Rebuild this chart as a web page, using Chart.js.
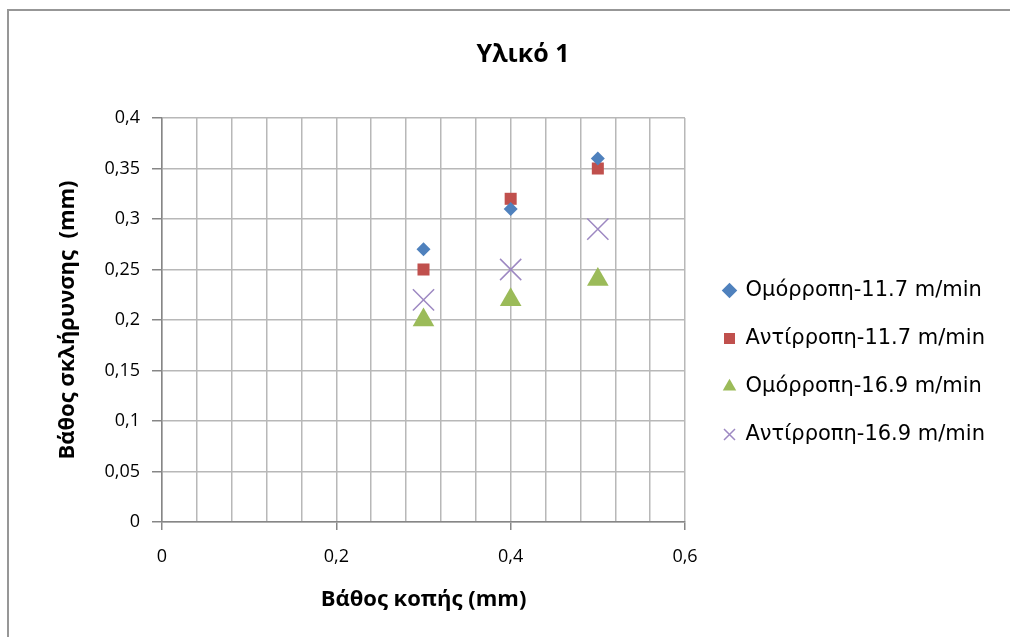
<!DOCTYPE html>
<html>
<head>
<meta charset="utf-8">
<script src="https://cdn.jsdelivr.net/npm/chart.js@4.4.0/dist/chart.umd.min.js"></script>
<style>
  html, body { margin: 0; padding: 0; background: #fff; }
  #wrap { position: relative; width: 1010px; height: 637px; overflow: hidden; }
  #frame { position: absolute; left: 7px; top: 9px; width: 1100px; height: 700px;
           border-top: 2px solid #979797; border-left: 2px solid #979797; }
  canvas { position: absolute; left: 0; top: 0; }
</style>
</head>
<body>
<div id="wrap">
  <div id="frame"></div>
  <canvas id="chart" width="1010" height="637"></canvas>
</div>
<script>
// cutting depth (mm) and hardening depth (mm) per series
const cuttingDepth = [0.3, 0.4, 0.5];
const coCurrent117 = [0.27, 0.31, 0.36];
const counter117 = [0.25, 0.32, 0.35];
const coCurrent169 = [0.20, 0.22, 0.24];
const counter169 = [0.22, 0.25, 0.29];
const seriesNames = [
  "Ομόρροπη-11.7 m/min",
  "Αντίρροπη-11.7 m/min",
  "Ομόρροπη-16.9 m/min",
  "Αντίρροπη-16.9 m/min"
];
const xTickLabels = ["0", "0,2", "0,4", "0,6"];
const yTickLabels = ["0", "0,05", "0,1", "0,15", "0,2", "0,25", "0,3", "0,35", "0,4"];

Chart.defaults.font.family = "'Open Sans', sans-serif";
Chart.defaults.color = "#000";

function points(ys) {
  return cuttingDepth.map((x, i) => ({ x: x, y: ys[i] }));
}

// keep the legend column at a fixed width and nudge title/legend like Excel does
const fixBoxes = {
  id: "fixBoxes",
  beforeLayout(chart) {
    const lg = chart.legend;
    if (lg && !lg._fixed) {
      const fit = lg.fit.bind(lg);
      lg.fit = function () { fit(); this.width = 325; };
      lg._fixed = true;
    }
  },
  afterLayout(chart) {
    chart.legend.left += 12;
    chart.legend.right += 12;
    chart.legend.top += 39;
    chart.legend.bottom += 39;
    chart.titleBlock.left += 13;
    chart.titleBlock.right += 13;
  }
};

const gridColor = "#b8b8b8";
const axisColor = "#868686";

new Chart(document.getElementById("chart"), {
  type: "scatter",
  data: {
    datasets: [
      {
        label: seriesNames[0],
        data: points(coCurrent117),
        pointStyle: "rectRot",
        pointRadius: 7,
        backgroundColor: "#4F81BD",
        borderColor: "#4F81BD",
        borderWidth: 0
      },
      {
        label: seriesNames[1],
        data: points(counter117),
        pointStyle: "rect",
        pointRadius: 8.5,
        backgroundColor: "#C0504D",
        borderColor: "#C0504D",
        borderWidth: 0
      },
      {
        label: seriesNames[2],
        data: points(coCurrent169),
        pointStyle: "triangle",
        pointRadius: 12.5,
        backgroundColor: "#9BBB59",
        borderColor: "#9BBB59",
        borderWidth: 0
      },
      {
        label: seriesNames[3],
        data: points(counter169),
        pointStyle: "crossRot",
        pointRadius: 15,
        backgroundColor: "#9d88c2",
        borderColor: "#9d88c2",
        borderWidth: 1.5
      }
    ]
  },
  options: {
    responsive: false,
    animation: false,
    layout: { padding: { top: 10, left: 10, right: 0, bottom: 0 } },
    plugins: {
      title: {
        display: true,
        text: "Υλικό 1",
        font: { size: 25, weight: "bold" },
        color: "#000",
        padding: { top: 30, bottom: 48 }
      },
      legend: {
        position: "right",
        align: "center",
        labels: {
          usePointStyle: true,
          boxWidth: 11,
          boxHeight: 11,
          padding: 27,
          font: { family: "'DejaVu Sans', sans-serif", size: 21 },
          color: "#000"
        }
      },
      tooltip: { enabled: false }
    },
    scales: {
      x: {
        type: "linear",
        min: 0,
        max: 0.6,
        ticks: {
          stepSize: 0.04,
          autoSkip: false,
          maxRotation: 0,
          padding: 16,
          font: { size: 18 },
          color: "#000",
          callback: (v, i) => (i % 5 === 0 ? xTickLabels[i / 5] : "")
        },
        grid: {
          color: gridColor,
          lineWidth: 1.5,
          tickLength: 8,
          tickColor: (ctx) => (ctx.index % 5 === 0 ? axisColor : "rgba(0,0,0,0)")
        },
        border: { color: axisColor, width: 1.5 },
        title: {
          display: true,
          text: "Βάθος κοπής (mm)",
          font: { size: 22, weight: "bold" },
          color: "#000",
          padding: { top: 0, bottom: 24 }
        },
        afterFit: (s) => { s.height = 115; }
      },
      y: {
        min: 0,
        max: 0.4,
        ticks: {
          stepSize: 0.05,
          padding: 12,
          font: { size: 18 },
          color: "#000",
          callback: (v, i) => yTickLabels[i]
        },
        grid: { color: gridColor, lineWidth: 1.5, tickLength: 10, tickColor: axisColor },
        border: { color: axisColor, width: 1.5 },
        title: {
          display: true,
          text: "Βάθος σκλήρυνσης  (mm)",
          font: { size: 22, weight: "bold" },
          color: "#000",
          padding: { top: 45, bottom: 0 }
        },
        afterFit: (s) => { s.width = 152; }
      }
    }
  },
  plugins: [fixBoxes]
});
</script>
</body>
</html>
